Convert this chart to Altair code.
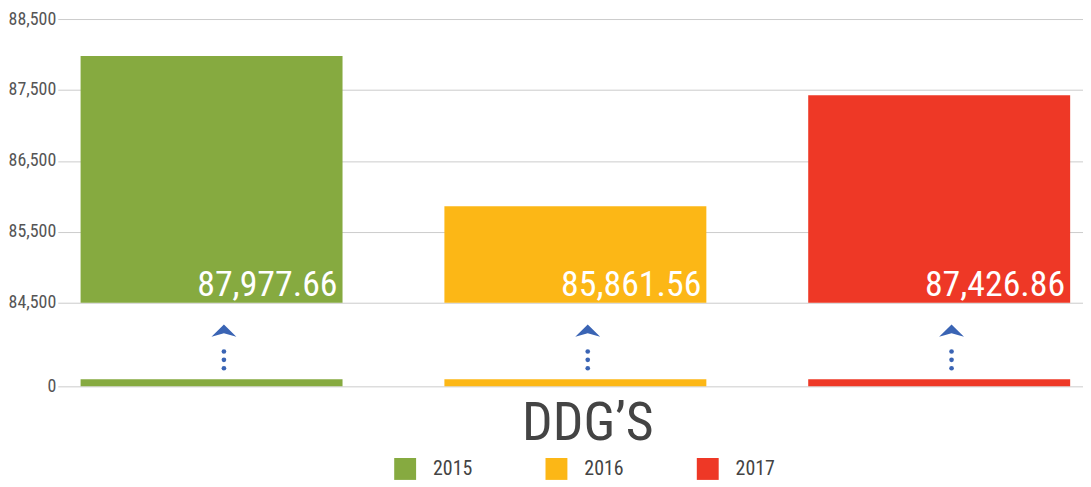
import altair as alt
import pandas as pd

years = ["2015", "2016", "2017"]
values = [87977.66, 85861.56, 87426.86]
colors = ["#86AA40", "#FCB716", "#EE3826"]
y_ticks = [84500, 85500, 86500, 87500, 88500]
y_floor = 84500
y_ceiling = 88500
category = "DDG’S"
break_domain = [0, 12]
stub_value = [1, 1, 1]
chevron_level = [8, 8, 8]
dot_levels = [5.0, 3.8, 2.6]

FONT = "Roboto Condensed, Liberation Sans Narrow, DejaVu Sans Condensed, sans-serif"
BLUE = "#3A64B4"

df = pd.DataFrame({"year": years, "value": values,
                   "label": [f"{v:,.2f}" for v in values],
                   "stub": stub_value, "chev": chevron_level})
dots = pd.DataFrame([{"year": y, "lvl": l} for y in years for l in dot_levels])

xscale = alt.Scale(domain=years, paddingInner=0.28, paddingOuter=0.049, align=0.64)
cscale = alt.Scale(domain=years, range=colors)

top_base = alt.Chart(df)
bars = top_base.mark_bar().encode(
    x=alt.X("year:N", scale=xscale, axis=None),
    y=alt.Y("value:Q", scale=alt.Scale(domain=[y_floor, y_ceiling], zero=False, clamp=True),
            axis=alt.Axis(values=y_ticks, format=",.0f", title=None, domain=False, ticks=False,
                          grid=True, gridColor="#CCCCCC", labelFontSize=18, labelColor="#555555",
                          labelFont=FONT, labelPadding=2)),
    y2=alt.datum(y_floor),
    color=alt.Color("year:N", scale=cscale,
                    legend=alt.Legend(title=None, orient="none", direction="horizontal",
                                      legendX=338, legendY=441,
                                      symbolType="square", symbolSize=484, symbolStrokeWidth=0,
                                      symbolOpacity=1,
                                      labelFontSize=20, labelFont=FONT, labelColor="#444444",
                                      labelOffset=17, columnPadding=73)),
)
labels = top_base.mark_text(align="right", baseline="alphabetic", dx=-5, dy=-7,
                            fontSize=36, font=FONT, color="white").encode(
    x=alt.X("year:N", scale=xscale, bandPosition=1),
    y=alt.datum(y_floor),
    text="label:N",
)
top = alt.layer(bars, labels).properties(width=1030, height=285)

bscale = alt.Scale(domain=break_domain)
stub = alt.Chart(df).mark_bar().encode(
    x=alt.X("year:N", scale=xscale,
            axis=alt.Axis(title=category, labels=False, ticks=False, domain=False,
                          titleFontSize=54, titleFont=FONT, titleColor="#444444",
                          titleFontWeight="normal", titlePadding=10, titleX=532)),
    y=alt.Y("stub:Q", scale=bscale,
            axis=alt.Axis(values=[0], title=None, domain=False, ticks=False, grid=True,
                          gridColor="#CCCCCC", labelFontSize=18, labelColor="#555555",
                          labelFont=FONT, labelPadding=2)),
    color=alt.Color("year:N", scale=cscale, legend=None),
)
chev = alt.Chart(df).mark_point(
    shape="M-1,0.5L0,-0.5L1,0.5L0,0.22Z", size=625, filled=True, color=BLUE, opacity=1
).encode(
    x=alt.X("year:N", scale=xscale),
    xOffset=alt.value(144),
    y=alt.Y("chev:Q", scale=bscale),
)
dot = alt.Chart(dots).mark_circle(size=22, color=BLUE, opacity=1).encode(
    x=alt.X("year:N", scale=xscale),
    xOffset=alt.value(144),
    y=alt.Y("lvl:Q", scale=bscale),
)
bottom = alt.layer(stub, chev, dot).properties(width=1030, height=84)

chart = alt.vconcat(top, bottom, spacing=0, bounds="flush").resolve_scale(
    x="shared", y="independent", color="shared"
).properties(padding={"left": 0, "right": 0, "top": 1, "bottom": 0}).configure_view(
    stroke=None
)

chart.save("out.html", embed_options={"renderer": "svg", "actions": False})
